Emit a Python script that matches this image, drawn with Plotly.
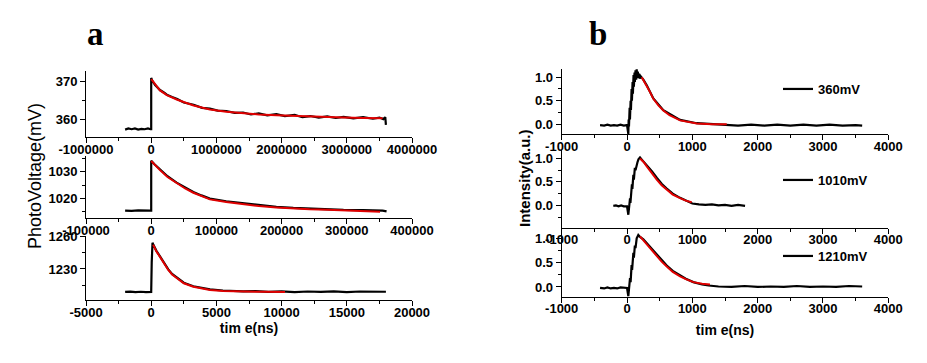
import plotly.graph_objects as go

# ---------------- data ----------------
# panel a, top (time in ns, photovoltage in mV)
a1_t = [-400000, -350000, -300000, -250000, -200000, -150000, -100000, -50000, -10000, 0,
        0, 20000, 60000, 135000, 200000, 240000, 320000, 400000, 500000, 650000, 780000,
        900000, 1020000, 1150000, 1280000, 1410000, 1530000, 1650000, 1780000, 1920000,
        2050000, 2200000, 2320000, 2440000, 2570000, 2700000, 2830000, 2950000, 3100000,
        3250000, 3400000, 3500000, 3560000, 3590000, 3600000]
a1_v = [357.5, 357.8, 357.6, 357.8, 357.5, 357.7, 357.6, 357.8, 357.6, 357.6,
        370.8, 370.0, 369.0, 367.7, 367.0, 366.5, 365.9, 365.4, 364.5, 363.9, 363.1,
        362.9, 362.4, 362.3, 361.8, 361.9, 361.4, 361.7, 361.2, 361.5,
        361.0, 361.3, 360.7, 361.0, 360.6, 360.9, 360.5, 360.8, 360.4,
        360.7, 360.3, 360.6, 360.2, 360.7, 358.7]
a1_ft = [0, 50000, 135000, 240000, 400000, 650000, 900000, 1150000, 1410000, 1650000,
         1920000, 2200000, 2440000, 2700000, 2950000, 3250000, 3550000]
a1_fv = [370.5, 369.4, 367.6, 366.4, 365.2, 363.7, 362.7, 362.1, 361.7, 361.4,
         361.2, 361.0, 360.8, 360.7, 360.6, 360.5, 360.4]

# panel a, middle
a2_t = [-40000, -30000, -20000, -10000, -2000, 0, 0, 5000, 13500, 25000, 39000, 52000,
        64600, 77000, 90000, 115000, 141000, 165000, 192000, 218000, 243000, 270000,
        295000, 325000, 345000, 355000, 361000]
a2_v = [1015.4, 1015.3, 1015.5, 1015.3, 1015.4, 1015.4, 1034.1, 1032.8, 1030.8, 1028.3,
        1025.9, 1024.0, 1022.4, 1021.1, 1019.9, 1018.9, 1018.1, 1017.4, 1016.8, 1016.4,
        1016.1, 1015.9, 1015.7, 1015.6, 1015.5, 1015.4, 1015.1]
a2_ft = [0, 5000, 13500, 25000, 39000, 52000, 64600, 77000, 90000, 115000, 141000,
         165000, 192000, 218000, 243000, 270000, 295000, 325000, 351000]
a2_fv = [1034.0, 1032.6, 1030.6, 1028.0, 1025.6, 1023.7, 1022.1, 1020.8, 1019.6, 1018.6,
         1017.8, 1017.1, 1016.6, 1016.2, 1015.9, 1015.7, 1015.5, 1015.3, 1015.0]

# panel a, bottom
a3_t = [-2000, -1600, -1200, -800, -400, 0, 40, 60, 100, 150, 400, 675, 1000, 1310, 1600,
        1955, 2500, 3230, 4000, 4510, 5500, 6300, 7060, 8000, 9000, 10000, 11000, 12000,
        13000, 14000, 15000, 16000, 17000, 18000]
a3_v = [1209.1, 1209.4, 1208.9, 1209.3, 1209.0, 1209.1, 1236.0, 1248.0, 1253.9, 1252.5,
        1246.5, 1241.5, 1235.0, 1229.6, 1225.5, 1222.0, 1217.5, 1214.3, 1212.4, 1211.4,
        1210.4, 1209.8, 1209.6, 1209.9, 1209.2, 1209.6, 1209.0, 1209.5, 1209.1, 1209.6,
        1209.0, 1209.5, 1209.1, 1209.3]
a3_ft = [150, 400, 675, 1000, 1310, 1600, 1955, 2500, 3230, 4000, 4510, 5500, 7060, 8500,
         10260]
a3_fv = [1252.0, 1246.0, 1241.0, 1234.5, 1229.1, 1225.0, 1221.5, 1217.0, 1213.9, 1212.0,
         1210.9, 1210.0, 1209.4, 1209.2, 1209.1]

# panel b (time in ns, normalised intensity)
b_names = ["360mV", "1010mV", "1210mV"]

b1_t = [-413, -350, -300, -250, -200, -150, -100, -50, 0, 10, 20, 25, 30, 40, 45, 55, 60,
        70, 75, 85, 90, 100, 105, 115, 120, 130, 140, 148, 155, 165, 175, 185, 195, 210,
        225, 250, 302, 403, 556, 812, 1067, 1300, 1527, 1700, 1900, 2100, 2300, 2500,
        2700, 2900, 3100, 3300, 3500, 3600]
b1_v = [-0.02, -0.03, -0.01, -0.03, -0.02, -0.03, -0.01, -0.03, -0.02, -0.15, -0.21, 0.1,
        -0.05, 0.35, 0.1, 0.5, 0.3, 0.75, 0.5, 0.9, 0.65, 1.05, 0.8, 1.1, 0.9, 1.15, 0.95,
        1.18, 1.0, 1.12, 0.98, 1.08, 0.97, 1.02, 1.0, 0.95, 0.83, 0.55, 0.3, 0.09, 0.02,
        0.0, -0.01, -0.03, -0.01, -0.03, -0.01, -0.03, -0.01, -0.03, -0.01, -0.03, -0.02,
        -0.03]
b1_ft = [225, 260, 302, 350, 403, 480, 556, 650, 812, 950, 1067, 1300, 1527]
b1_fv = [1.0, 0.92, 0.83, 0.69, 0.54, 0.4, 0.29, 0.19, 0.08, 0.04, 0.015, 0.0, 0.0]

b2_t = [-210, -170, -130, -90, -50, -10, 0, 20, 30, 46, 52, 60, 66, 75, 82, 97, 105, 120,
        130, 148, 160, 175, 199, 230, 302, 380, 455, 530, 608, 700, 812, 900, 965, 1000,
        1100, 1200, 1300, 1400, 1500, 1600, 1700, 1807]
b2_v = [-0.01, 0.0, -0.02, 0.0, -0.02, -0.01, -0.02, -0.2, 0.0, 0.15, 0.05, 0.3, 0.2,
        0.45, 0.35, 0.65, 0.55, 0.8, 0.75, 0.9, 0.92, 0.98, 1.02, 0.97, 0.86, 0.73, 0.59,
        0.46, 0.36, 0.25, 0.16, 0.1, 0.07, 0.04, 0.02, 0.01, 0.02, 0.0, 0.01, -0.01,
        0.01, -0.01]
b2_ft = [199, 250, 302, 380, 455, 530, 608, 700, 812, 900, 990]
b2_fv = [1.0, 0.93, 0.83, 0.68, 0.55, 0.43, 0.33, 0.23, 0.155, 0.1, 0.065]

b3_t = [-413, -350, -300, -250, -200, -150, -100, -50, 0, 20, 30, 46, 55, 70, 78, 97, 105,
        120, 130, 148, 173, 199, 250, 302, 380, 455, 530, 608, 700, 812, 900, 1015, 1150,
        1250, 1400, 1600, 1800, 2000, 2200, 2400, 2600, 2800, 3000, 3200, 3400, 3600]
b3_v = [-0.02, -0.03, -0.01, -0.03, -0.02, -0.03, -0.01, -0.02, -0.02, -0.19, 0.0, 0.18,
        0.1, 0.45, 0.35, 0.7, 0.6, 0.85, 0.8, 1.0, 1.07, 1.03, 0.98, 0.9, 0.77, 0.66,
        0.54, 0.44, 0.33, 0.24, 0.17, 0.1, 0.05, 0.03, 0.01, 0.0, 0.02, 0.0, 0.01, 0.0,
        0.02, 0.0, 0.01, 0.0, 0.02, 0.01]
b3_ft = [199, 250, 302, 380, 455, 530, 608, 700, 812, 900, 1015, 1150, 1270]
b3_fv = [1.04, 0.96, 0.87, 0.75, 0.63, 0.52, 0.42, 0.31, 0.22, 0.16, 0.1, 0.065, 0.05]

# tick values and labels
a1_xtickvals = [-1000000, 0, 1000000, 2000000, 3000000, 4000000]
a1_xticktext = ["-1000000", "0", "1000000", "2000000", "3000000", "4000000"]
a2_xtickvals = [-100000, 0, 100000, 200000, 300000, 400000]
a2_xticktext = ["-100000", "0", "100000", "200000", "300000", "400000"]
a3_xtickvals = [-5000, 0, 5000, 10000, 15000, 20000]
a3_xticktext = ["-5000", "0", "5000", "10000", "15000", "20000"]
a1_ytickvals, a1_yticktext = [360, 370], ["360", "370"]
a2_ytickvals, a2_yticktext = [1020, 1030], ["1020", "1030"]
a3_ytickvals, a3_yticktext = [1230, 1260], ["1230", "1260"]
b_xtickvals = [-1000, 0, 1000, 2000, 3000, 4000]
b_xticktext = ["-1000", "0", "1000", "2000", "3000", "4000"]
b_ytickvals = [0.0, 0.5, 1.0]
b_yticktext = ["0.0", "0.5", "1.0"]

# axis ranges
a_xranges = [[-1000000, 4000000], [-100000, 400000], [-5000, 20000]]
a_yranges = [[355.6, 372.6], [1012.5, 1035.9], [1201.5, 1260]]
b_xrange = [-1000, 4000]
b_yranges = [[-0.21, 1.17], [-0.476, 1.18], [-0.2, 1.13]]

# ---------------- figure ----------------
W, H = 927, 363
fig = go.Figure()

def py(p):
    return 1 - p / H

left_dom = [86 / W, 412 / W]
right_dom = [561.7 / W, 888.3 / W]
a_ydoms = [[py(137), py(71)], [py(218.3), py(156)], [py(300.3), py(236)]]
b_ydoms = [[py(134), py(69.3)], [py(227.7), py(150)], [py(296.7), py(232)]]

tickfont = dict(family="Liberation Sans, Arial", size=13, color="black", weight="bold")

def axis_style(dom, rng, vals, text, anchor, standoff):
    step = vals[1] - vals[0]
    return dict(domain=dom, range=rng, tickmode="array", tickvals=vals, ticktext=text,
                anchor=anchor, showline=True, linecolor="black", linewidth=1,
                ticks="outside", ticklen=5, tickwidth=1, tickcolor="black",
                minor=dict(ticks="outside", ticklen=3, tickwidth=1, tickcolor="black",
                           tickmode="linear", dtick=step / 2, tick0=vals[0]),
                showgrid=False, zeroline=False, tickfont=tickfont,
                ticklabelstandoff=standoff, automargin=False,
                mirror=False, fixedrange=True)

a_data = [(a1_t, a1_v, a1_ft, a1_fv), (a2_t, a2_v, a2_ft, a2_fv), (a3_t, a3_v, a3_ft, a3_fv)]
b_data = [(b1_t, b1_v, b1_ft, b1_fv), (b2_t, b2_v, b2_ft, b2_fv), (b3_t, b3_v, b3_ft, b3_fv)]
a_xticks = [(a1_xtickvals, a1_xticktext), (a2_xtickvals, a2_xticktext),
            (a3_xtickvals, a3_xticktext)]
a_yticks = [(a1_ytickvals, a1_yticktext), (a2_ytickvals, a2_yticktext),
            (a3_ytickvals, a3_yticktext)]

title_font = dict(family="Liberation Sans, Arial", size=14, color="black", weight="bold")

layout = {}
for i, (t, v, ft, fv) in enumerate(a_data):
    k = i + 1
    xs = "x" if k == 1 else f"x{k}"
    ys = "y" if k == 1 else f"y{k}"
    fig.add_trace(go.Scatter(x=t, y=v, mode="lines", line=dict(color="black", width=2.2),
                             xaxis=xs, yaxis=ys, showlegend=False))
    fig.add_trace(go.Scatter(x=ft, y=fv, mode="lines", line=dict(color="#e00000", width=2),
                             xaxis=xs, yaxis=ys, showlegend=False))
    xa = axis_style(left_dom, a_xranges[i], *a_xticks[i], ys, -5)
    ya = axis_style(a_ydoms[i], a_yranges[i], *a_yticks[i], xs, 0)
    if k == 3:
        xa["title"] = dict(text="tim e(ns)", standoff=2, font=title_font)
    layout["xaxis" if k == 1 else f"xaxis{k}"] = xa
    layout["yaxis" if k == 1 else f"yaxis{k}"] = ya

legend_y = [89, 180, 256]
for i, (t, v, ft, fv) in enumerate(b_data):
    k = i + 4
    xs, ys = f"x{k}", f"y{k}"
    lg = "legend" if i == 0 else f"legend{i + 1}"
    fig.add_trace(go.Scatter(x=t, y=v, mode="lines", line=dict(color="black", width=2.2),
                             xaxis=xs, yaxis=ys, name=b_names[i], legend=lg,
                             showlegend=True))
    fig.add_trace(go.Scatter(x=ft, y=fv, mode="lines", line=dict(color="#e00000", width=2),
                             xaxis=xs, yaxis=ys, showlegend=False))
    xa = axis_style(right_dom, b_xrange, b_xtickvals, b_xticktext, ys, -5)
    ya = axis_style(b_ydoms[i], b_yranges[i], b_ytickvals, b_yticktext, xs, 0)
    if i == 2:
        xa["title"] = dict(text="tim e(ns)", standoff=9, font=title_font)
    layout[f"xaxis{k}"] = xa
    layout[f"yaxis{k}"] = ya
    layout[lg] = dict(x=778 / W, y=py(legend_y[i]), xanchor="left", yanchor="middle",
                      bgcolor="rgba(0,0,0,0)", borderwidth=0,
                      font=dict(family="Liberation Sans, Arial", size=13,
                                color="black", weight="bold"))

fig.update_layout(
    template="none",
    width=W, height=H, margin=dict(l=0, r=0, t=0, b=0, pad=0, autoexpand=False),
    paper_bgcolor="white", plot_bgcolor="white",
    **layout,
    annotations=[
        dict(text="a", x=95 / W, y=py(34), xref="paper", yref="paper", showarrow=False,
             xanchor="center", yanchor="middle",
             font=dict(family="Liberation Serif, Times New Roman", size=33, color="black",
                       weight="bold")),
        dict(text="b", x=598 / W, y=py(34), xref="paper", yref="paper", showarrow=False,
             xanchor="center", yanchor="middle",
             font=dict(family="Liberation Serif, Times New Roman", size=33, color="black",
                       weight="bold")),
        dict(text="PhotoVoltage(mV)", x=35 / W, y=py(176), xref="paper", yref="paper",
             showarrow=False, textangle=-90, xanchor="center", yanchor="middle",
             font=dict(family="Liberation Sans, Arial", size=18, color="black")),
        dict(text="Intensity(a.u.)", x=524 / W, y=py(178), xref="paper", yref="paper",
             showarrow=False, textangle=-90, xanchor="center", yanchor="middle",
             font=dict(family="Liberation Sans, Arial", size=15, color="black",
                       weight="bold")),
    ],
)

fig.write_html("out.html", config={"displayModeBar": False},
               post_script="document.body.style.margin='0';document.body.style.padding='0';")
